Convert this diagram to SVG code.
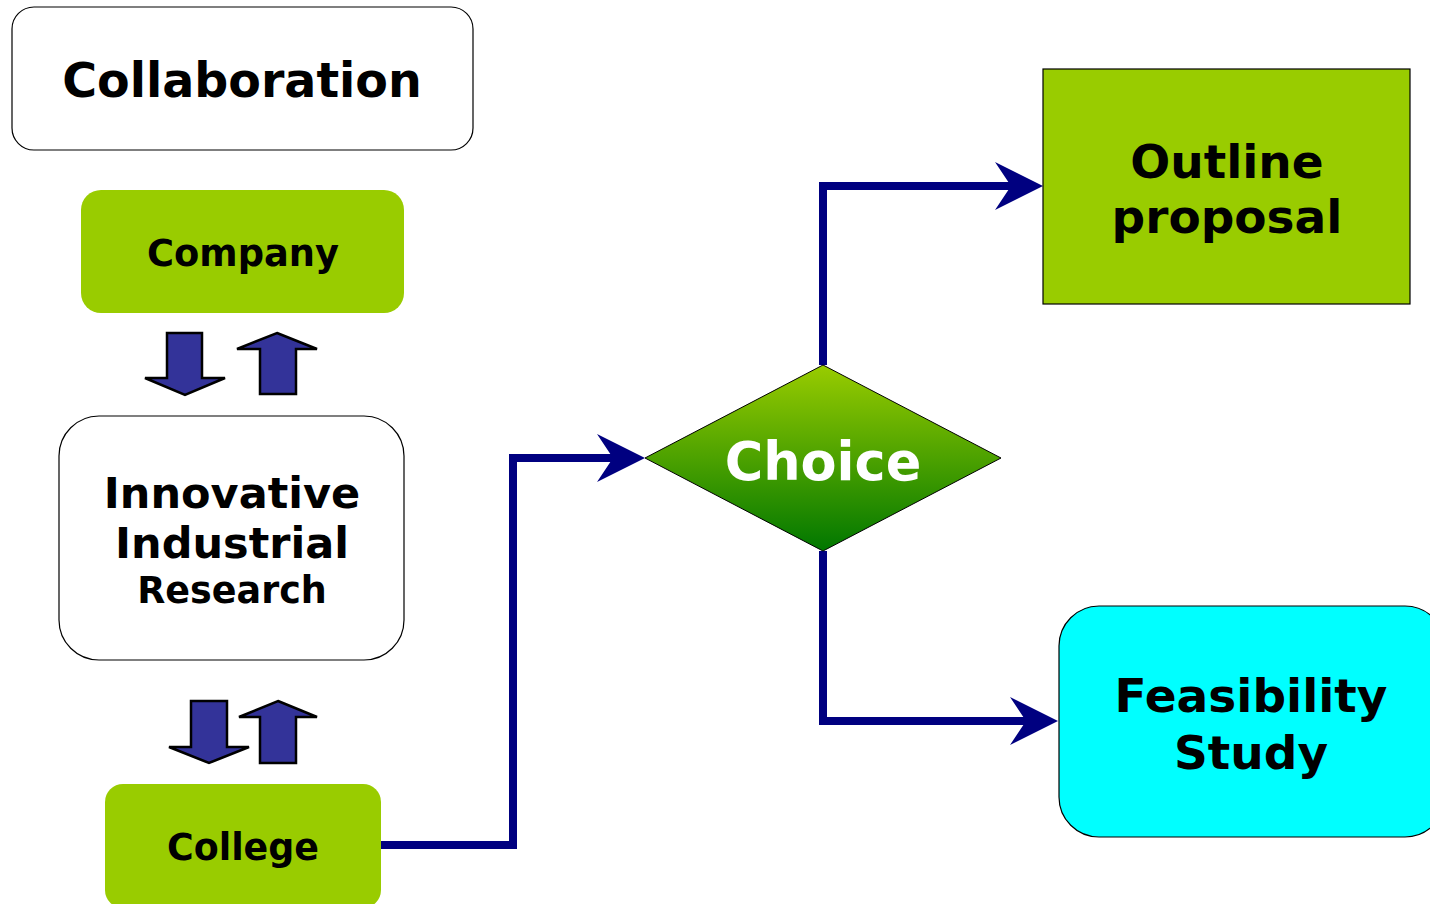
<svg xmlns="http://www.w3.org/2000/svg" width="1430" height="904" viewBox="0 0 1430 904">
<style>
text{font-family:"DejaVu Sans","Liberation Sans",sans-serif;font-weight:bold;text-anchor:middle;fill:#000}
.box{stroke:#000;stroke-width:1.2}
.green{fill:#99cc00}
.conn{fill:none;stroke:#000080;stroke-width:8}
.blk{fill:#333399;stroke:#000;stroke-width:2.5;stroke-linejoin:miter}
</style>
<defs>
<linearGradient id="dg" x1="0" y1="0" x2="0" y2="1">
<stop offset="0" stop-color="#99cc00"/>
<stop offset="1" stop-color="#007700"/>
</linearGradient>
<marker id="ah" viewBox="0 0 12 12" refX="4" refY="6" markerWidth="12" markerHeight="12" markerUnits="userSpaceOnUse" orient="auto" overflow="visible">
<path d="M12,6 L-36,-18 L-20,6 L-36,30 Z" fill="#000080"/>
</marker>
</defs>
<g id="collaboration">
<rect class="box" x="12" y="7" width="461" height="143" rx="22" fill="#fff"/>
<text x="242" y="97" font-size="47.5">Collaboration</text>
</g>
<g id="company">
<rect x="81" y="190" width="323" height="123" rx="20" class="green"/>
<text x="243" y="266" font-size="36.8">Company</text>
</g>
<g id="arrows-top">
<path class="blk" d="M167,333 H202 V378 H225 L185,395 L145,378 H167 Z"/>
<path class="blk" d="M277,333 L317,349 H296 V394 H260 V349 H237 Z"/>
</g>
<g id="innovative">
<rect class="box" x="59" y="416" width="345" height="244" rx="40" fill="#fff"/>
<text x="232" y="508" font-size="43">Innovative</text>
<text x="232" y="558" font-size="43">Industrial</text>
<text x="232" y="603" font-size="36.5">Research</text>
</g>
<g id="arrows-bottom">
<path class="blk" d="M191,701 H227 V747 H249 L209,763 L169,747 H191 Z"/>
<path class="blk" d="M278,701 L317,717 H296 V763 H260 V717 H239 Z"/>
</g>
<g id="college">
<rect x="105" y="784" width="276" height="124" rx="18" class="green"/>
<text x="243" y="860" font-size="36.4">College</text>
</g>
<g id="connectors">
<path class="conn" d="M381,845 H513 V458 H637" marker-end="url(#ah)"/>
<path class="conn" d="M823,365 V186 H1035" marker-end="url(#ah)"/>
<path class="conn" d="M823,551 V721 H1050" marker-end="url(#ah)"/>
</g>
<g id="choice">
<path d="M645,458 L823,365 L1001,458 L823,551 Z" fill="url(#dg)" stroke="#000" stroke-width="1"/>
<text x="823" y="480" font-size="52.5" style="fill:#fff">Choice</text>
</g>
<g id="outline">
<rect class="box green" x="1043" y="69" width="367" height="235"/>
<text x="1227" y="178" font-size="47">Outline</text>
<text x="1227" y="233" font-size="47">proposal</text>
</g>
<g id="feasibility">
<rect class="box" x="1059" y="606" width="386" height="231" rx="40" fill="#00ffff"/>
<text x="1251" y="712" font-size="47">Feasibility</text>
<text x="1251" y="769" font-size="47">Study</text>
</g>
</svg>
